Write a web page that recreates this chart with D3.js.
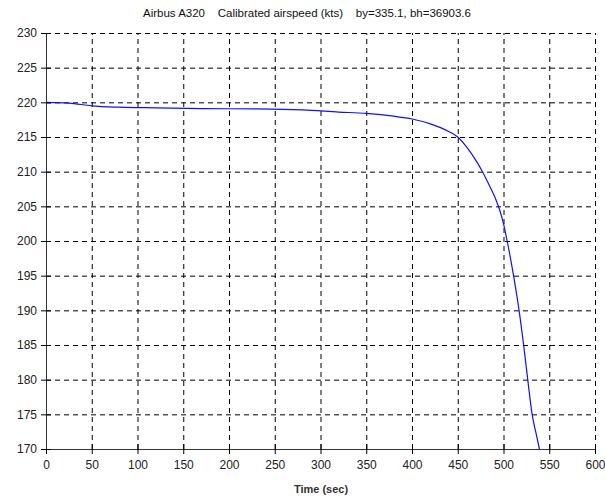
<!DOCTYPE html>
<html>
<head>
<meta charset="utf-8">
<script src="https://cdn.jsdelivr.net/npm/d3@7"></script>
<style>
  body { margin: 0; background: #fff; }
  text { font-family: "Liberation Sans", Arial, sans-serif; }
</style>
</head>
<body>
<div id="container"></div>
<script>
/* DATA */
const timeSec = [0, 25, 50, 80, 120, 170, 230, 280, 320, 350, 380, 400, 420, 440, 450, 460, 470, 477, 485, 491, 496, 500, 504, 511, 517, 522, 526.5, 531.3, 535, 539.3];
const airspeed = [220, 219.9, 219.5, 219.3, 219.2, 219.1, 219.05, 218.9, 218.6, 218.4, 218.0, 217.6, 216.9, 215.8, 215.0, 213.5, 211.6, 210, 207.9, 206.2, 204.4, 202.5, 200, 195, 190, 185, 180, 175, 172.6, 170];
const xTicks = [0, 50, 100, 150, 200, 250, 300, 350, 400, 450, 500, 550, 600];
const yTicks = [170, 175, 180, 185, 190, 195, 200, 205, 210, 215, 220, 225, 230];
const titleText = "Airbus A320    Calibrated airspeed (kts)    by=335.1, bh=36903.6";
const xLabel = "Time (sec)";

const width = 605, height = 499;
const margin = { left: 46, right: 10, top: 33, bottom: 50 };

const data = timeSec.map((t, i) => ({ t: t, v: airspeed[i] }));

const svg = d3.select("#container")
  .append("svg")
  .attr("width", width)
  .attr("height", height)
  .style("background", "#fff");

/* SCALES */
const xScale = d3.scaleLinear()
  .domain([0, 600])
  .range([margin.left, width - margin.right]);

const yScale = d3.scaleLinear()
  .domain([170, 230])
  .range([height - margin.bottom, margin.top]);

/* GRID */
const xGrid = svg.append("g")
  .attr("transform", `translate(0, ${height - margin.bottom})`)
  .call(d3.axisBottom(xScale).tickValues(xTicks.slice(1)).tickSize(-(height - margin.bottom - margin.top)).tickFormat(""));
xGrid.select(".domain").remove();
xGrid.selectAll("line").attr("stroke", "#000").attr("stroke-dasharray", "5,4");

const yGrid = svg.append("g")
  .attr("transform", `translate(${margin.left}, 0)`)
  .call(d3.axisLeft(yScale).tickValues(yTicks.slice(1)).tickSize(-(width - margin.left - margin.right)).tickFormat(""));
yGrid.select(".domain").remove();
yGrid.selectAll("line").attr("stroke", "#000").attr("stroke-dasharray", "5,4");

/* LINE */
const line = d3.line()
  .x(d => xScale(d.t))
  .y(d => yScale(d.v))
  .curve(d3.curveMonotoneX);

svg.append("path")
  .datum(data)
  .attr("fill", "none")
  .attr("stroke", "#1010ff")
  .attr("stroke-width", 1.2)
  .attr("d", line);

/* AXES */
const xAxis = svg.append("g")
  .attr("transform", `translate(0, ${height - margin.bottom})`)
  .call(d3.axisBottom(xScale).tickValues(xTicks).tickSizeInner(5).tickSizeOuter(0).tickPadding(6));
xAxis.selectAll(".tick line").attr("y1", -5);
xAxis.select(".domain").attr("stroke", "#333");
xAxis.selectAll("text").attr("font-size", 12).attr("fill", "#222")
  .attr("font-family", "'Liberation Sans', Arial, sans-serif");

const yAxis = svg.append("g")
  .attr("transform", `translate(${margin.left}, 0)`)
  .call(d3.axisLeft(yScale).tickValues(yTicks).tickSizeInner(5).tickSizeOuter(0).tickPadding(4));
yAxis.selectAll(".tick line").attr("x1", 5);
yAxis.select(".domain").attr("stroke", "#333");
yAxis.selectAll("text").attr("font-size", 12).attr("fill", "#222")
  .attr("font-family", "'Liberation Sans', Arial, sans-serif");

/* TITLES */
svg.append("text")
  .attr("x", 143)
  .attr("y", 17)
  .attr("font-size", 11.5)
  .attr("fill", "#111")
  .style("white-space", "pre")
  .text(titleText);

svg.append("text")
  .attr("x", 321)
  .attr("y", 493)
  .attr("text-anchor", "middle")
  .attr("font-size", 11)
  .attr("font-weight", "bold")
  .attr("fill", "#333")
  .text(xLabel);
</script>
</body>
</html>
